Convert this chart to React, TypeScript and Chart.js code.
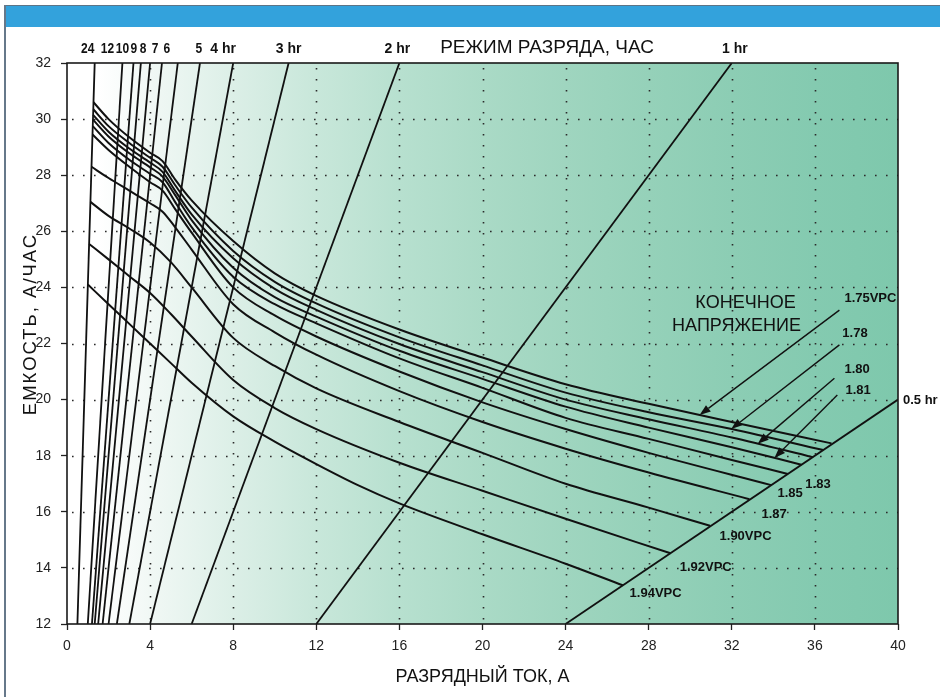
import React, { useEffect, useRef } from 'react';
import { Chart, registerables } from 'chart.js';

Chart.register(...registerables);

const FONT = "'Liberation Sans', Arial, Helvetica, sans-serif";

// ---- data ----
const rateHours = [24, 12, 10, 9, 8, 7, 6, 5, 4, 3, 2, 1, 0.5];
const rateLabels = ['24', '12', '10', '9', '8', '7', '6', '5', '4 hr', '3 hr', '2 hr', '1 hr', '0.5 hr'];

const voltLabels = ['1.75VPC', '1.78', '1.80', '1.81', '1.83', '1.85', '1.87', '1.90VPC', '1.92VPC', '1.94VPC'];

const curve175: [number, number][] = [[1.275, 30.6], [2, 30.0], [3, 29.35], [4, 28.8], [4.6, 28.5], [5.2, 27.85], [6, 27.1], [8, 25.65], [10, 24.5], [12, 23.7], [16, 22.5], [20, 21.5], [24, 20.55], [28, 19.85], [32, 19.2], [36.8, 18.44]];
const curve178: [number, number][] = [[1.265, 30.35], [2, 29.75], [3, 29.15], [4, 28.62], [4.6, 28.3], [5.2, 27.65], [6, 26.85], [8, 25.3], [10, 24.2], [12, 23.43], [16, 22.22], [20, 21.22], [24, 20.25], [28, 19.55], [32, 18.95], [36.4, 18.2]];
const curve180: [number, number][] = [[1.256, 30.15], [2, 29.55], [3, 28.95], [4, 28.45], [4.6, 28.12], [5.2, 27.45], [6, 26.6], [8, 25.04], [10, 23.95], [12, 23.2], [16, 21.98], [20, 20.98], [24, 20.0], [28, 19.3], [32, 18.65], [35.9, 17.95]];
const curve181: [number, number][] = [[1.249, 29.98], [2, 29.38], [3, 28.78], [4, 28.28], [4.6, 27.95], [5.2, 27.3], [6, 26.4], [8, 24.7], [10, 23.65], [12, 22.96], [16, 21.74], [20, 20.74], [24, 19.75], [28, 19.0], [32, 18.3], [35.35, 17.68]];
const curve183: [number, number][] = [[1.24, 29.75], [2, 29.15], [3, 28.55], [4, 28.05], [4.6, 27.75], [5.2, 27.05], [6, 26.15], [8, 24.38], [10, 23.4], [12, 22.72], [16, 21.47], [20, 20.42], [24, 19.35], [28, 18.6], [32, 17.85], [34.7, 17.35]];
const curve185: [number, number][] = [[1.227, 29.45], [2, 28.9], [3, 28.3], [4, 27.75], [4.6, 27.45], [5.2, 26.8], [6, 25.95], [8, 24.0], [10, 23.0], [12, 22.25], [16, 21.0], [20, 19.9], [24, 18.95], [28, 18.1], [33.9, 16.95]];
const curve187: [number, number][] = [[1.179, 28.3], [2, 27.9], [3, 27.45], [4, 27.0], [4.6, 26.7], [5.2, 26.15], [6, 25.35], [8, 23.4], [10, 22.4], [12, 21.6], [16, 20.3], [20, 19.2], [24, 18.25], [28, 17.4], [32.85, 16.45]];
const curve190: [number, number][] = [[1.127, 27.05], [2, 26.55], [3, 26.1], [4, 25.6], [5, 24.9], [6, 24.0], [8, 22.2], [10, 21.2], [12, 20.4], [16, 19.2], [20, 18.1], [24, 17.0], [28, 16.15], [30.95, 15.5]];
const curve192: [number, number][] = [[1.065, 25.55], [2, 25.0], [3, 24.4], [4, 23.8], [5, 23.05], [6, 22.25], [8, 20.7], [10, 19.7], [12, 18.95], [16, 17.75], [20, 16.75], [24, 15.75], [29.05, 14.52]];
const curve194: [number, number][] = [[1.004, 24.1], [2, 23.4], [3, 22.7], [4, 22.0], [5, 21.3], [6, 20.6], [8, 19.4], [10, 18.5], [12, 17.7], [14, 16.95], [16, 16.3], [20, 15.2], [24, 14.15], [26.75, 13.38]];

const curves = [curve175, curve178, curve180, curve181, curve183, curve185, curve187, curve190, curve192, curve194];

// ---- layout (annotation placement, not data) ----
const rateLabelDx = [-7, -15, -11, -7, -7, -7, -11, -1, -10, 0, -2, 3];
const condensedCount = 8;
const voltLabelPos: [number, number][] = [[37.42, 23.62], [37.32, 22.37], [37.42, 21.06], [37.47, 20.34], [35.54, 16.99], [34.2, 16.64], [33.43, 15.89], [31.41, 15.14], [29.49, 14.0], [27.08, 13.1]];
const arrowTails: [number, number][] = [[37.18, 23.19], [37.18, 21.95], [36.94, 20.76], [37.08, 20.16]];
const arrowTipX = [30.45, 31.97, 33.25, 34.05];

function interp(c: [number, number][], xv: number) {
  for (let i = 0; i < c.length - 1; i++) {
    if (xv >= c[i][0] && xv <= c[i + 1][0]) {
      const t = (xv - c[i][0]) / (c[i + 1][0] - c[i][0]);
      return c[i][1] + t * (c[i + 1][1] - c[i][1]);
    }
  }
  return c[c.length - 1][1];
}

function rateEnds(h: number) {
  const x0 = 12 / h;
  const x1 = Math.min(32 / h, 40);
  return [{ x: x0, y: 12 }, { x: x1, y: h * x1 }];
}

const gradStops: [number, string][] = [
  [0, '#ffffff'], [1.5, '#ffffff'], [4, '#f1f8f5'], [8, '#dcefe7'], [12, '#c8e7da'], [16, '#b7e0cf'],
  [20, '#aadac6'], [24, '#9fd5bf'], [28, '#95d1b9'], [32, '#8ccdb4'], [36, '#84cab0'], [40, '#7ec8ac'],
];

const decor = {
  id: 'decor',
  beforeDatasetsDraw(chart: any) {
    const { ctx, chartArea: a, scales } = chart;
    const x = scales.x, y = scales.y;
    ctx.save();
    const g = ctx.createLinearGradient(a.left, 0, a.right, 0);
    gradStops.forEach(([v, c]) => g.addColorStop(v / 40, c));
    ctx.fillStyle = g;
    ctx.fillRect(a.left, a.top, a.right - a.left, a.bottom - a.top);
    ctx.strokeStyle = '#2a2a2a';
    ctx.lineWidth = 1.6;
    ctx.setLineDash([1.6, 9.4]);
    x.ticks.forEach((t: any) => {
      if (t.value <= x.min || t.value >= x.max) return;
      const px = Math.round(x.getPixelForValue(t.value)) + 0.5;
      ctx.beginPath(); ctx.moveTo(px, a.top + 5); ctx.lineTo(px, a.bottom); ctx.stroke();
    });
    y.ticks.forEach((t: any) => {
      if (t.value <= y.min || t.value >= y.max) return;
      const py = Math.round(y.getPixelForValue(t.value)) + 0.5;
      ctx.beginPath(); ctx.moveTo(a.left + 5, py); ctx.lineTo(a.right, py); ctx.stroke();
    });
    ctx.restore();
  },
  afterDatasetsDraw(chart: any) {
    const { ctx, chartArea: a, scales } = chart;
    const x = scales.x, y = scales.y;
    ctx.save();
    ctx.strokeStyle = '#1a1a1a';
    ctx.lineWidth = 1.6;
    ctx.strokeRect(a.left, a.top, a.right - a.left, a.bottom - a.top);

    // arrows
    ctx.fillStyle = '#111';
    ctx.strokeStyle = '#111';
    ctx.lineWidth = 1.4;
    arrowTails.forEach(([tx, ty], i) => {
      const x0 = x.getPixelForValue(tx), y0 = y.getPixelForValue(ty);
      const xv = arrowTipX[i];
      const x1 = x.getPixelForValue(xv), y1 = y.getPixelForValue(interp(curves[i], xv));
      const ang = Math.atan2(y1 - y0, x1 - x0);
      const L = 11, W = 4;
      const bx = x1 - L * Math.cos(ang), by = y1 - L * Math.sin(ang);
      ctx.beginPath(); ctx.moveTo(x0, y0); ctx.lineTo(bx, by); ctx.stroke();
      ctx.beginPath();
      ctx.moveTo(x1, y1);
      ctx.lineTo(bx + W * Math.sin(ang), by - W * Math.cos(ang));
      ctx.lineTo(bx - W * Math.sin(ang), by + W * Math.cos(ang));
      ctx.closePath(); ctx.fill();
    });

    // texts
    ctx.fillStyle = '#111';
    ctx.textBaseline = 'middle';
    ctx.textAlign = 'center';
    for (let i = 0; i < rateHours.length - 1; i++) {
      const h = rateHours[i];
      const px = x.getPixelForValue(Math.min(32 / h, 40)) + rateLabelDx[i];
      ctx.save();
      ctx.translate(px, 49);
      if (i < condensedCount) {
        ctx.font = `bold 15px ${FONT}`;
        ctx.scale(0.8, 1);
      } else {
        ctx.font = `bold 14px ${FONT}`;
      }
      ctx.fillText(rateLabels[i], 0, 0);
      ctx.restore();
    }
    ctx.font = `bold 13px ${FONT}`;
    // 0.5 hr label at its line end
    {
      const h = rateHours[rateHours.length - 1];
      const e = rateEnds(h)[1];
      ctx.textAlign = 'left';
      ctx.fillText(rateLabels[rateLabels.length - 1], x.getPixelForValue(e.x) + 5, y.getPixelForValue(e.y) + 1);
    }
    ctx.textAlign = 'left';
    voltLabels.forEach((t, i) => {
      const [lx, ly] = voltLabelPos[i];
      ctx.fillText(t, x.getPixelForValue(lx), y.getPixelForValue(ly));
    });

    ctx.font = `18px ${FONT}`;
    ctx.textAlign = 'center';
    ctx.fillText('КОНЕЧНОЕ', x.getPixelForValue(32.66), y.getPixelForValue(23.44));
    ctx.fillText('НАПРЯЖЕНИЕ', x.getPixelForValue(32.23), y.getPixelForValue(22.62));

    // titles
    ctx.font = `19px ${FONT}`;
    ctx.fillText('РЕЖИМ РАЗРЯДА, ЧАС', 547, 48);
    ctx.font = `18px ${FONT}`;
    ctx.fillText('РАЗРЯДНЫЙ ТОК, А', (a.left + a.right) / 2, 677);
    ctx.save();
    ctx.translate(31, 324);
    ctx.rotate(-Math.PI / 2);
    ctx.font = `18.5px ${FONT}`;
    try { (ctx as any).letterSpacing = '2px'; } catch (e) { /* ignore */ }
    ctx.fillText('ЕМКОСТЬ, А/ЧАС', 0, 0);
    ctx.restore();
    ctx.restore();
  },
};

export default function App() {
  const ref = useRef<HTMLCanvasElement>(null);
  useEffect(() => {
    const datasets: any[] = [];
    rateHours.forEach((h) => {
      datasets.push({
        data: rateEnds(h), showLine: true, pointRadius: 0, borderColor: '#111', borderWidth: 1.8, tension: 0,
      });
    });
    curves.forEach((c) => {
      datasets.push({
        data: c.map(([cx, cy]) => ({ x: cx, y: cy })), showLine: true, pointRadius: 0,
        borderColor: '#111', borderWidth: 2, cubicInterpolationMode: 'monotone',
      });
    });
    const tickFont = { family: FONT, size: 14 };
    const chart = new Chart(ref.current as HTMLCanvasElement, {
      type: 'scatter',
      data: { datasets },
      plugins: [decor],
      options: {
        animation: false,
        responsive: false,
        maintainAspectRatio: false,
        devicePixelRatio: 1,
        events: [],
        layout: { padding: { left: 0, right: 42, top: 63, bottom: 0 } },
        plugins: { legend: { display: false }, tooltip: { enabled: false } },
        scales: {
          x: {
            type: 'linear', min: 0, max: 40,
            ticks: { stepSize: 4, font: tickFont, color: '#222', padding: 8, maxRotation: 0 },
            grid: { drawOnChartArea: false, drawTicks: true, tickLength: 6, tickColor: '#222', tickWidth: 1.3 },
            border: { display: false },
            afterFit: (s: any) => { s.height = 73; },
          },
          y: {
            type: 'linear', min: 12, max: 32,
            ticks: { stepSize: 2, font: tickFont, color: '#222', padding: 10 },
            grid: { drawOnChartArea: false, drawTicks: true, tickLength: 6, tickColor: '#222', tickWidth: 1.3 },
            border: { display: false },
            afterFit: (s: any) => { s.width = 67; },
          },
        },
      } as any,
    });
    return () => chart.destroy();
  }, []);
  return (
    <div style={{ position: 'absolute', left: 0, top: 0, width: 940, height: 697, background: '#fff', overflow: 'hidden' }}>
      <canvas ref={ref} width={940} height={697} style={{ position: 'absolute', left: 0, top: 0, width: 940, height: 697 }} />
      <div style={{ position: 'absolute', left: 4, top: 5, width: 936, height: 22, background: '#33a2dc', borderTop: '1px solid #5d7486', boxSizing: 'border-box' }} />
      <div style={{ position: 'absolute', left: 4, top: 5, width: 2, height: 692, background: '#66788a' }} />
    </div>
  );
}
